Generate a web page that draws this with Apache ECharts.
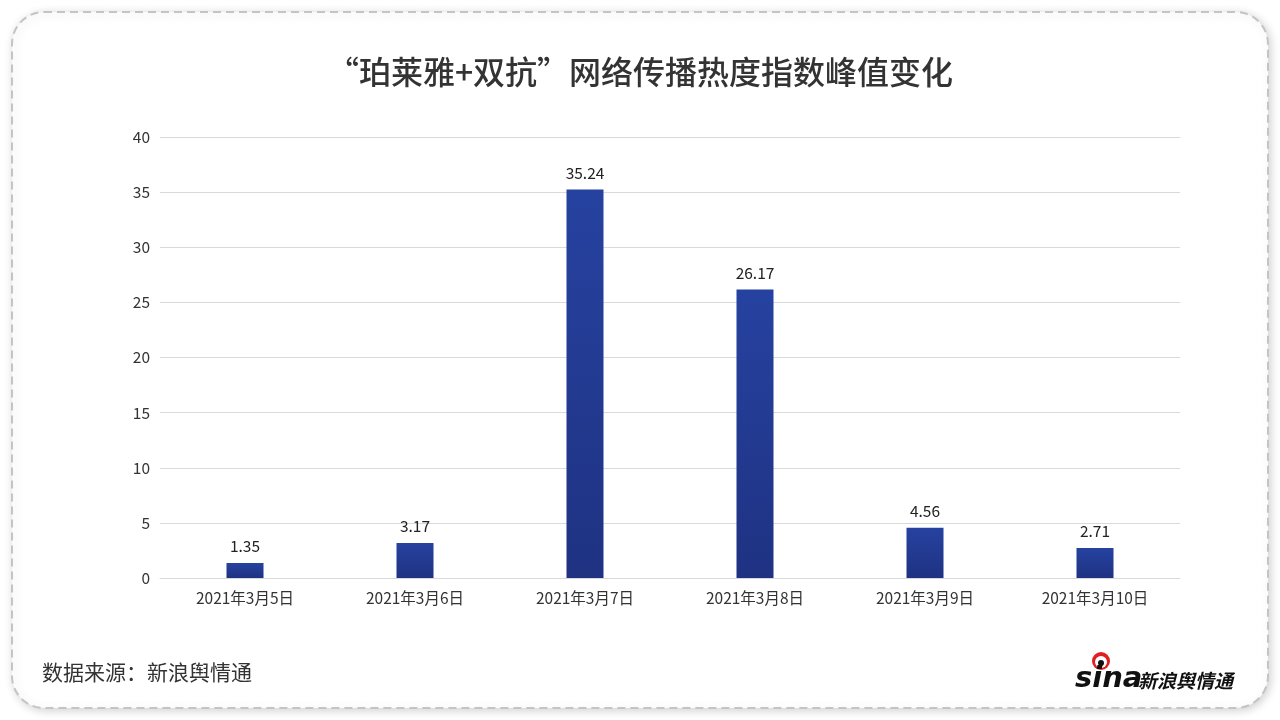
<!DOCTYPE html>
<html><head><meta charset="utf-8">
<script src="https://cdn.jsdelivr.net/npm/echarts@6/dist/echarts.min.js"></script>
<style>html,body{margin:0;padding:0;background:#fff}#c{width:1280px;height:720px}</style>
</head><body><div id="c"></div>
<script>
const categories = ['2021年3月5日','2021年3月6日','2021年3月7日','2021年3月8日','2021年3月9日','2021年3月10日'];
const values = [1.35, 3.17, 35.24, 26.17, 4.56, 2.71];
const yTicks = [0, 5, 10, 15, 20, 25, 30, 35, 40];
const titleText = '“珀莱雅+双抗”网络传播热度指数峰值变化';
const sourceText = '数据来源：新浪舆情通';

const font = '"Noto Sans CJK SC", "Noto Sans", sans-serif';
const chart = echarts.init(document.getElementById('c'));
chart.setOption({
  backgroundColor: '#fff',
  animation: false,
  textStyle: { fontFamily: font },
  title: {
    text: titleText, left: 'center', top: 51,
    textStyle: { fontSize: 32, fontWeight: 500, color: '#333', fontFamily: font }
  },
  grid: { left: 160, right: 100, top: 137, bottom: 142 },
  xAxis: {
    type: 'category', data: categories,
    axisLine: { show: true, lineStyle: { color: '#d9d9d9' } },
    axisTick: { show: false },
    axisLabel: { fontSize: 15.5, color: '#333', margin: 12, fontFamily: font }
  },
  yAxis: {
    type: 'value', min: yTicks[0], max: yTicks[yTicks.length - 1], interval: 5,
    axisLine: { show: false }, axisTick: { show: false },
    splitLine: { lineStyle: { color: '#d9d9d9' } },
    axisLabel: { fontSize: 15.5, color: '#333', margin: 10, fontFamily: font }
  },
  series: [{
    type: 'bar', data: values, barWidth: 37,
    itemStyle: {
      color: new echarts.graphic.LinearGradient(0, 0, 0, 1, [
        { offset: 0, color: '#2642a0' }, { offset: 1, color: '#1f3282' }
      ])
    },
    label: { show: true, position: 'top', distance: 9, fontSize: 15.5, color: '#222', fontFamily: font }
  }],
  graphic: [
    {
      type: 'rect', z: -10, silent: true,
      shape: { x: 12, y: 12, width: 1256, height: 696, r: 32 },
      style: { fill: '#fff', stroke: '#c4c4c4', lineWidth: 2, lineDash: [8, 5],
               shadowBlur: 10, shadowColor: 'rgba(0,0,0,0.18)', shadowOffsetX: 2, shadowOffsetY: 2 }
    },
    {
      type: 'text', left: 42, top: 662,
      style: { text: sourceText, fill: '#333', font: '21px ' + font }
    },
    {
      type: 'group', left: 1075, top: 652,
      children: [
        { type: 'circle', shape: { cx: 26, cy: 12, r: 9 }, style: { fill: '#e02020' } },
        { type: 'circle', shape: { cx: 26, cy: 13, r: 6 }, style: { fill: '#fff' } },
        { type: 'circle', shape: { cx: 26, cy: 14, r: 3 }, style: { fill: '#111' } },
        { type: 'text', x: 0, y: 16,
          style: { text: 'sina', font: 'italic 900 29px "DejaVu Sans", sans-serif', fill: '#111' } },
        { type: 'text', x: 63, y: 22,
          style: { text: '新浪舆情通', font: 'italic bold 19px ' + font, fill: '#111' } }
      ]
    }
  ]
});
</script></body></html>
